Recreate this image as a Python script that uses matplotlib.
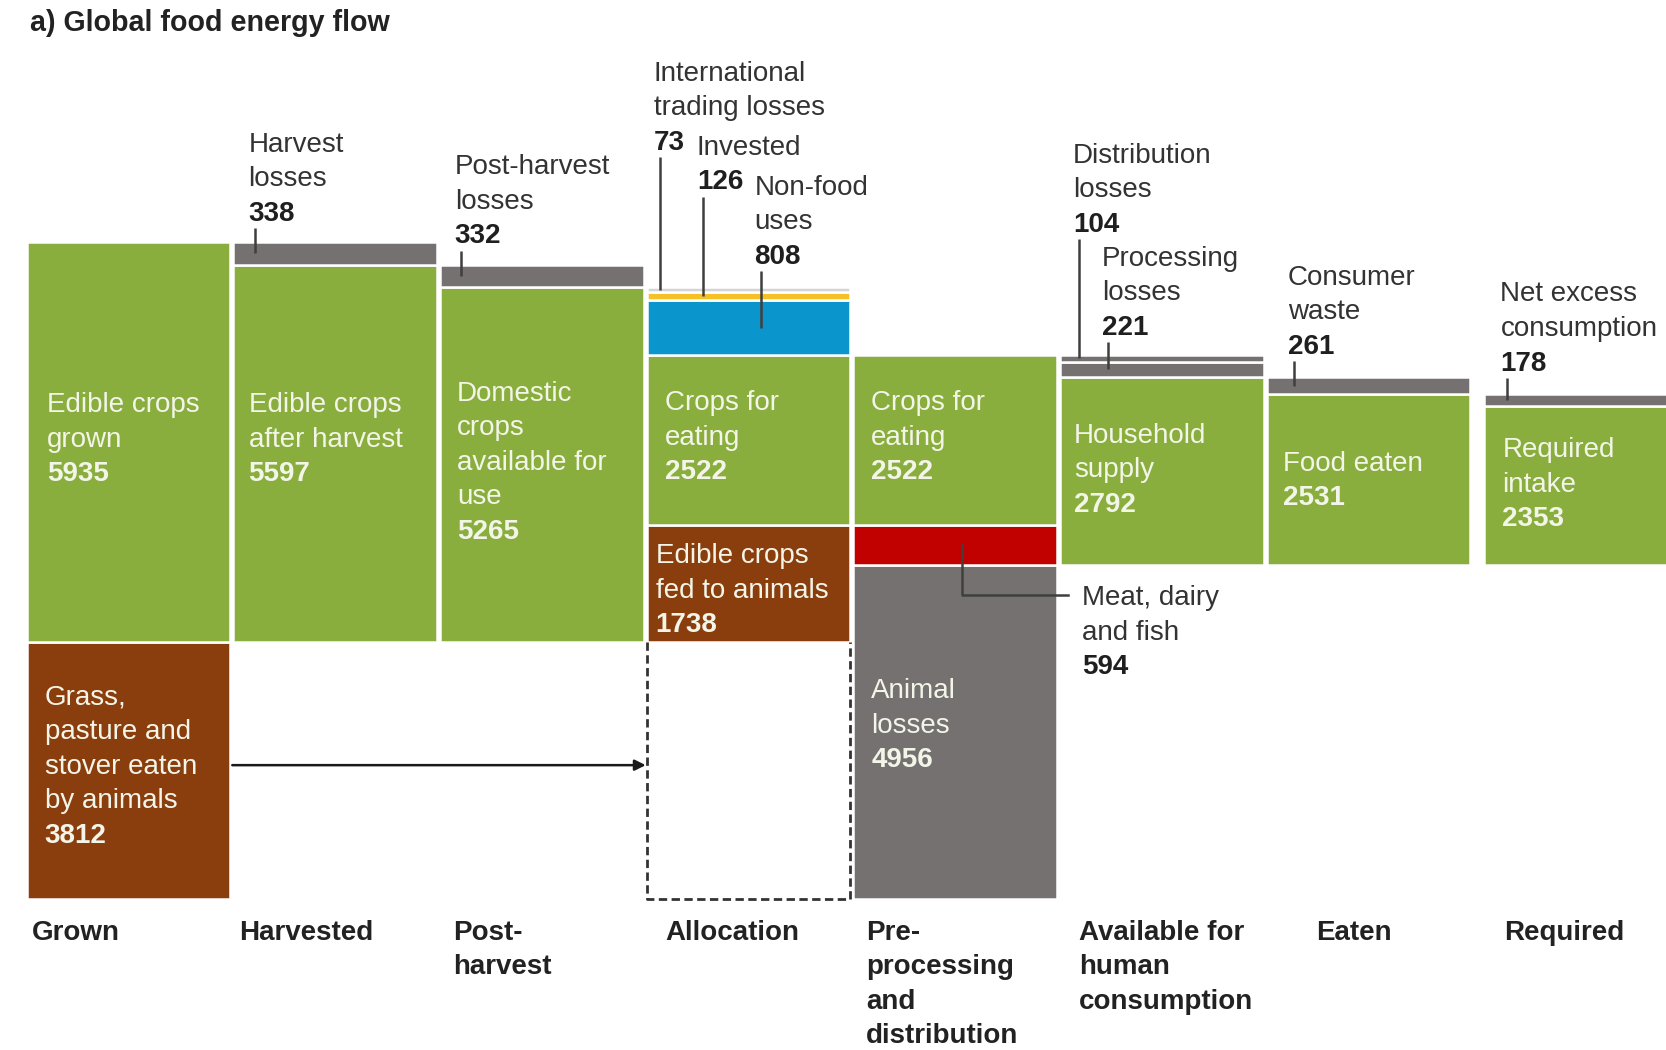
import matplotlib.pyplot as plt

plt.rcParams['font.family'] = ['Liberation Sans', 'DejaVu Sans']

# stages along the bottom
stages = ["Grown", "Harvested", "Post-\nharvest", "Allocation",
          "Pre-\nprocessing\nand\ndistribution", "Available for\nhuman\nconsumption",
          "Eaten", "Required"]

# stacked values, bottom-up, for each stage
grown = [3812, 5935]
harvested = [5597, 338]
post_harvest = [5265, 332]
allocation = [3812, 1738, 2522, 808, 126, 73]
pre_processing = [4956, 594, 2522]
available = [2792, 221, 104]
eaten = [2531, 261]
required = [2353, 178]

grown_names = ["Grass,\npasture and\nstover eaten\nby animals", "Edible crops\ngrown"]
harvested_names = ["Edible crops\nafter harvest", "Harvest\nlosses"]
post_names = ["Domestic\ncrops\navailable for\nuse", "Post-harvest\nlosses"]
allocation_names = [None, "Edible crops\nfed to animals", "Crops for\neating",
                    "Non-food\nuses", "Invested", "International\ntrading losses"]
pre_names = ["Animal\nlosses", "Meat, dairy\nand fish", "Crops for\neating"]
available_names = ["Household\nsupply", "Processing\nlosses", "Distribution\nlosses"]
eaten_names = ["Food eaten", "Consumer\nwaste"]
required_names = ["Required\nintake", "Net excess\nconsumption"]

GREEN = '#8aae3e'
GREY = '#767171'
BROWN = '#8b3e0d'
BLUE = '#0a96cc'
YELLOW = '#f6c027'
RED = '#c10000'
LIGHT = '#d4d4d4'

grown_colors = [BROWN, GREEN]
harvested_colors = [GREEN, GREY]
post_colors = [GREEN, GREY]
allocation_colors = [None, BROWN, GREEN, BLUE, YELLOW, LIGHT]
pre_colors = [GREY, RED, GREEN]
available_colors = [GREEN, GREY, GREY]
eaten_colors = [GREEN, GREY]
required_colors = [GREEN, GREY]

columns = [grown, harvested, post_harvest, allocation, pre_processing, available, eaten, required]
names = [grown_names, harvested_names, post_names, allocation_names, pre_names,
         available_names, eaten_names, required_names]
colors = [grown_colors, harvested_colors, post_colors, allocation_colors, pre_colors,
          available_colors, eaten_colors, required_colors]
bases = [0, grown[0], grown[0], 0, 0, pre_processing[0], pre_processing[0], pre_processing[0]]
xpos = [0, 1, 2, 3, 4, 5, 6, 7.05]

# ---- layout ----
W = 0.985
FS = 20
STEP = 512          # line spacing in data units
HALFCAP = 148
IN_COLOR = '#f3f5e8'
DARK = '#333333'
LINE = '#3f3f3f'

# in-box labels: (col, seg) -> (dx, dy)
inside = {(0, 0): (0.087, 97), (0, 1): (0.098, 79), (1, 0): (0.074, 249),
          (2, 0): (0.081, 69), (3, 1): (0.043, -62), (3, 2): (0.089, 79),
          (4, 0): (0.086, 139), (4, 2): (0.086, 79), (5, 0): (0.068, 50),
          (6, 0): (0.076, 26), (7, 0): (0.09, 56)}
# labels above with leader: (col, seg) -> (text dx, rise of leader above segment top)
above = {(1, 1): (0.074, 203), (2, 1): (0.071, 208), (3, 5): (0.033, 1925),
         (3, 4): (0.243, 1414), (3, 3): (0.521, 438), (5, 2): (0.063, 1720),
         (5, 1): (0.202, 295), (6, 1): (0.102, 235), (7, 1): (0.08, 244)}
bottom_dx = [0.025, 0.03, 0.065, 0.09, 0.06, 0.09, 0.24, 0.10]

fig = plt.figure(figsize=(16.66, 10.5), dpi=100)
ax = fig.add_axes([0, 0, 1, 1])
ax.set_xlim(-0.1287, 7.931)
ax.set_ylim(-2240, 13338)
ax.axis('off')


def write(x, first_base, name, number, color, num_color):
    y = first_base
    for line in name.split('\n'):
        ax.text(x, y, line, ha='left', va='baseline', fontsize=FS, color=color)
        y -= STEP
    ax.text(x, y, str(number), ha='left', va='baseline', fontsize=FS,
            color=num_color, fontweight='bold')


for c, (vals, nms, cols, base, x) in enumerate(zip(columns, names, colors, bases, xpos)):
    bottom = base
    for s, (v, nm, col) in enumerate(zip(vals, nms, cols)):
        top = bottom + v
        if col is None:
            # grass eaten by animals, shown as dashed outline
            ax.plot([x, x, x + W, x + W], [bottom + v, bottom, bottom, bottom + v],
                    color='#333333', lw=2, ls=(0, (3, 1.6)))
        else:
            ax.bar(x, v, bottom=bottom, width=W, align='edge', color=col,
                   edgecolor='white', linewidth=1.8)
        mid = (bottom + top) / 2
        if (c, s) in inside:
            dx, dy = inside[(c, s)]
            n = nm.count('\n') + 2
            fb = mid + dy + (n - 1) / 2 * STEP - HALFCAP
            write(x + dx, fb, nm, v, IN_COLOR, IN_COLOR)
        elif (c, s) in above:
            dx, rise = above[(c, s)]
            lt = top + rise
            ax.plot([x + dx + 0.03] * 2, [mid, lt], color=LINE, lw=1.8,
                    solid_capstyle='butt')
            n = nm.count('\n') + 1
            write(x + dx, lt + 110 + n * STEP, nm, v, DARK, '#1f1f1f')
        elif (c, s) == (4, 1):
            # meat, dairy and fish: elbow leader to the right
            lx = x + 0.523
            ey = mid - 743
            ax.plot([lx, lx, x + 1.037], [mid, ey, ey], color=LINE, lw=1.8)
            write(x + 1.104, ey - HALFCAP, nm, v, DARK, '#1f1f1f')
        bottom = top

# arrow from grass to allocation
ax.annotate('', xy=(xpos[3] - 0.005, grown[0] / 2 + 80),
            xytext=(xpos[0] + W + 0.01, grown[0] / 2 + 80),
            arrowprops=dict(arrowstyle='-|>', color='#1a1a1a', lw=1.8,
                            mutation_scale=16, shrinkA=0, shrinkB=0))

# stage labels
for x, dx, lab in zip(xpos, bottom_dx, stages):
    y = -605
    for line in lab.split('\n'):
        ax.text(x + dx, y, line, ha='left', va='baseline', fontsize=FS,
                fontweight='bold', color='#222222')
        y -= STEP

fig.text(30 / 1666, 1 - 23.4 / 1050, "a) Global food energy flow", ha='left',
         va='center', fontsize=20.6, fontweight='bold', color='#222222')

fig.savefig('out.png', dpi=100)
